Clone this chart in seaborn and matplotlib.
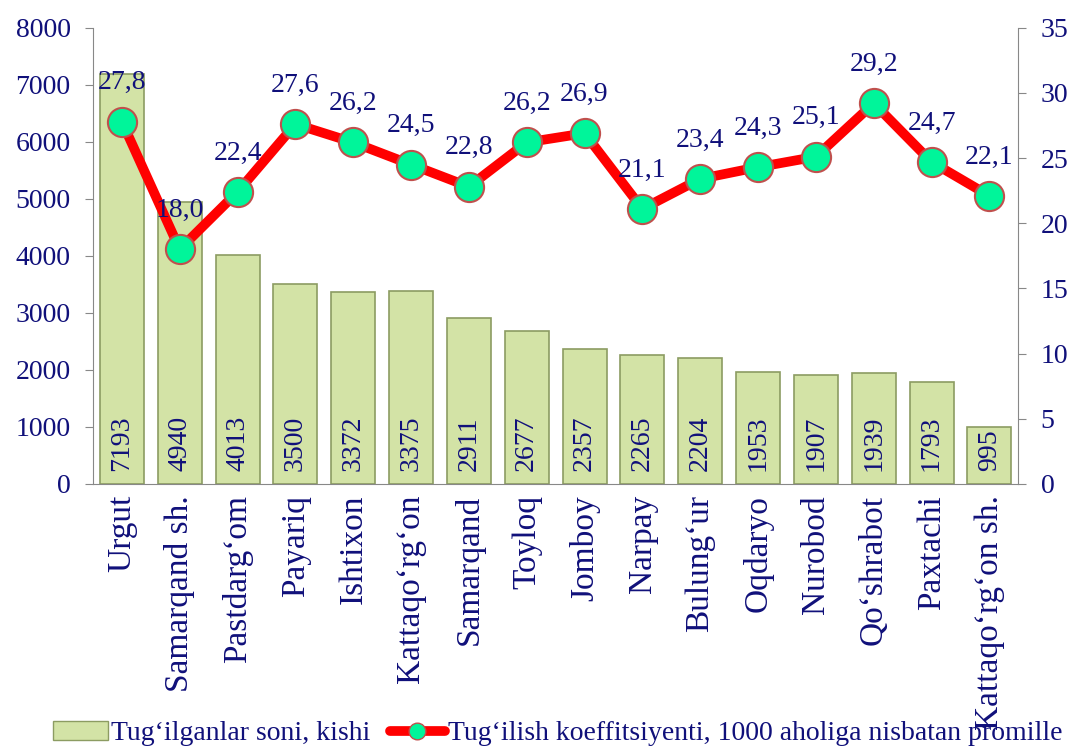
import matplotlib
matplotlib.use("Agg")
import matplotlib.pyplot as plt
import seaborn as sns
import pandas as pd
from matplotlib.lines import Line2D
from matplotlib.patches import Patch

districts = ["Urgut", "Samarqand sh.", "Pastdarg‘om", "Payariq", "Ishtixon",
             "Kattaqo‘rg‘on", "Samarqand", "Toyloq", "Jomboy", "Narpay",
             "Bulung‘ur", "Oqdaryo", "Nurobod", "Qo‘shrabot", "Paxtachi",
             "Kattaqo‘rg‘on sh."]
births = [7193, 4940, 4013, 3500, 3372, 3375, 2911, 2677, 2357, 2265,
          2204, 1953, 1907, 1939, 1793, 995]
rates = [27.8, 18.0, 22.4, 27.6, 26.2, 24.5, 22.8, 26.2, 26.9, 21.1,
         23.4, 24.3, 25.1, 29.2, 24.7, 22.1]

bar_label = "Tug‘ilganlar soni, kishi"
line_label = "Tug‘ilish koeffitsiyenti, 1000 aholiga nisbatan promille"

sns.set_style("white")
plt.rcParams['font.family'] = ['Liberation Serif', 'DejaVu Serif']
navy = "#10107a"
fs = 20

df = pd.DataFrame({"district": districts, "births": births})

fig = plt.figure(figsize=(10.81, 7.49), dpi=100)
ax = fig.add_axes([0.086, 0.354, 0.856, 0.609])
sns.barplot(data=df, x="district", y="births", ax=ax, color="#d3e3a6",
            edgecolor="#8c9c62", linewidth=1.2, width=0.76, saturation=1)
ax.set_ylim(0, 8000)
ax.set_yticks(range(0, 8001, 1000))
ax.set_xlim(-0.5, len(districts) - 0.5)
ax.set_xlabel("")
ax.set_ylabel("")
ax.set_xticks(range(len(districts)))
ax.set_xticklabels(districts, rotation=90, fontsize=24, color=navy)
ax.tick_params(axis="x", length=0, pad=8)
ax.set_xticks([i - 0.5 for i in range(len(districts) + 1)], minor=True)
ax.tick_params(axis="x", which="minor", length=9, color="#888888", direction="out")
ax.tick_params(axis="y", labelsize=fs, labelcolor=navy, length=6, pad=10,
               color="#888888", direction="out", left=True)
for s in ["top", "right"]:
    ax.spines[s].set_visible(False)
for s in ["left", "bottom"]:
    ax.spines[s].set_color("#888888")

for i, v in enumerate(births):
    ax.text(i, 230, str(v), rotation=90, ha="center", va="bottom",
            fontsize=fs, color=navy)

ax2 = ax.twinx()
ax2.plot(range(len(rates)), rates, color="#ff0000", linewidth=7,
         marker="o", markersize=21, markerfacecolor="#00f59a",
         markeredgecolor="#c0504d", markeredgewidth=1.5, zorder=3)
ax2.set_ylim(0, 35)
ax2.set_yticks(range(0, 36, 5))
ax2.tick_params(axis="y", labelsize=fs, labelcolor=navy, length=6, pad=10,
                color="#888888", direction="out", right=True)
for s in ["top", "left", "bottom"]:
    ax2.spines[s].set_visible(False)
ax2.spines["right"].set_color("#888888")
for i, r in enumerate(rates):
    ax2.annotate(f"{r:.1f}".replace(".", ","), (i, r), xytext=(0, 19),
                 textcoords="offset points", ha="center", va="bottom",
                 fontsize=fs, color=navy)

handles = [Patch(facecolor="#d3e3a6", edgecolor="#8c9c62", label=bar_label),
           Line2D([0], [0], color="#ff0000", linewidth=7, marker="o",
                  markersize=12, markerfacecolor="#00f59a",
                  markeredgecolor="#c0504d", label=line_label)]
fig.legend(handles=handles, loc="lower left", bbox_to_anchor=(0.046, 0.0),
           ncol=2, frameon=False, fontsize=fs, labelcolor=navy,
           borderpad=0.1, borderaxespad=0, handlelength=2.0,
           columnspacing=0.7, handletextpad=0.1)

fig.savefig("out.png", dpi=100)
